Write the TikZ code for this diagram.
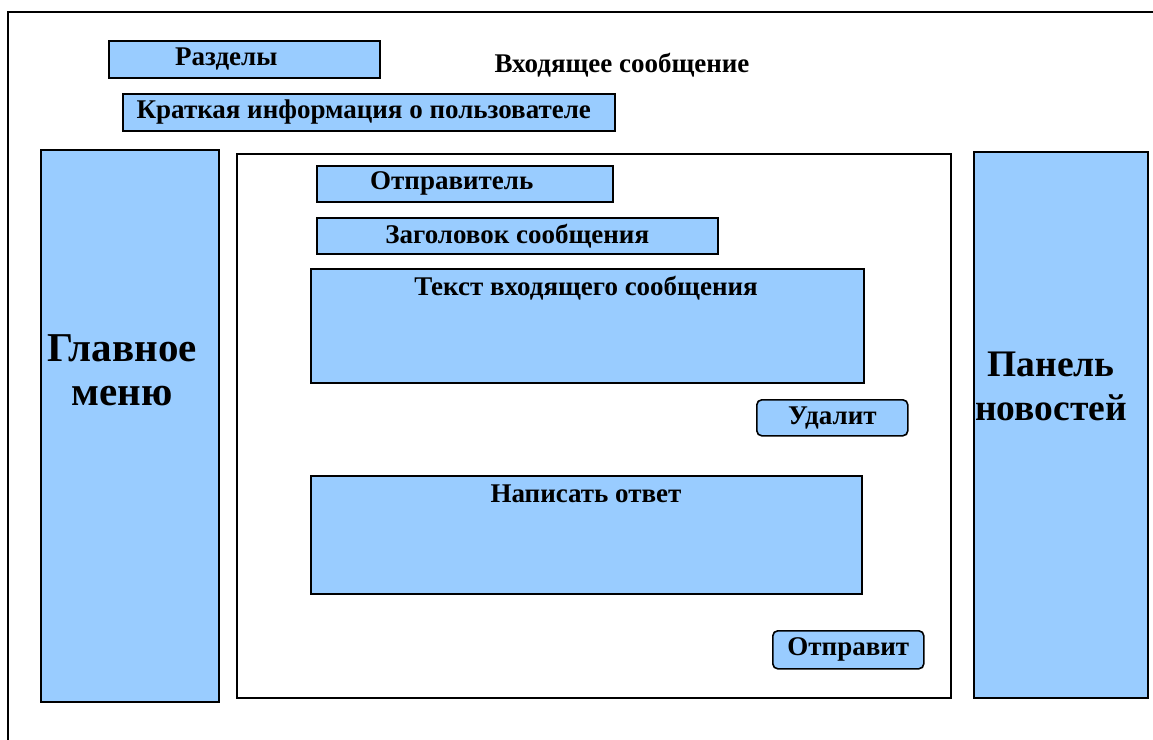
\documentclass[tikz,border=0pt]{standalone}
\usepackage{fontspec}
\setmainfont{Liberation Serif}
\definecolor{boxblue}{HTML}{99CCFF}
\tikzset{
  px/.style={x=1pt,y=-1pt},
  bluebox/.style={draw=black, line width=1.6pt, fill=boxblue, inner sep=0pt, anchor=north west, font=\bfseries\fontsize{27}{31}\selectfont},
  whitebox/.style={draw=black, line width=1.6pt, fill=white, inner sep=0pt, anchor=north west},
  btn/.style={bluebox, rounded corners=5pt},
  bigtext/.style={font=\bfseries\fontsize{41}{44}\selectfont, align=center},
  plaintext/.style={font=\bfseries\fontsize{27}{31}\selectfont},
}
\begin{document}
\begin{tikzpicture}[px]
\useasboundingbox (0,0) rectangle (1153,739);
% outer frame (only top and left edges inside the picture)
\draw[line width=1.6pt] (8,745) -- (8,12) -- (1160,12);
% top items
\node[bluebox, minimum width=271pt, minimum height=37pt] (razd) at (108,40) {Разделы\hspace*{36pt}};
\node[plaintext] (vhod) at (622,65) {Входящее сообщение};
\node[bluebox, minimum width=492pt, minimum height=37pt] (kratk) at (122,93) {Краткая информация о пользователе\hspace*{10pt}};
% side panels
\node[bluebox, minimum width=178pt, minimum height=552pt] (menu) at (40,149) {};
\node[bigtext] (menutext) at (122,370) {Главное\\меню};
\node[bluebox, minimum width=174pt, minimum height=546pt] (news) at (973,151) {};
\node[bigtext, font=\bfseries\fontsize{37.5}{44}\selectfont] (newstext) at (1051,386) {Панель\\новостей};
% main panel
\node[whitebox, minimum width=714pt, minimum height=544pt] (main) at (236,153) {};
\node[bluebox, minimum width=296pt, minimum height=36pt] (sender) at (316,165) {Отправитель\hspace*{26pt}};
\node[bluebox, minimum width=401pt, minimum height=36pt] (subj) at (316,217) {Заголовок сообщения};
\node[bluebox, minimum width=553pt, minimum height=114pt] (text) at (310,268) {};
\node[plaintext] (texttitle) at (586,288) {Текст входящего сообщения};
\node[btn, minimum width=151pt, minimum height=36pt] (del) at (756,399) {Удалит};
\node[bluebox, minimum width=551pt, minimum height=118pt] (reply) at (310,475) {};
\node[plaintext] (replytitle) at (586,494) {Написать ответ};
\node[btn, minimum width=151pt, minimum height=38pt] (send) at (772,630) {Отправит};
\end{tikzpicture}
\end{document}
